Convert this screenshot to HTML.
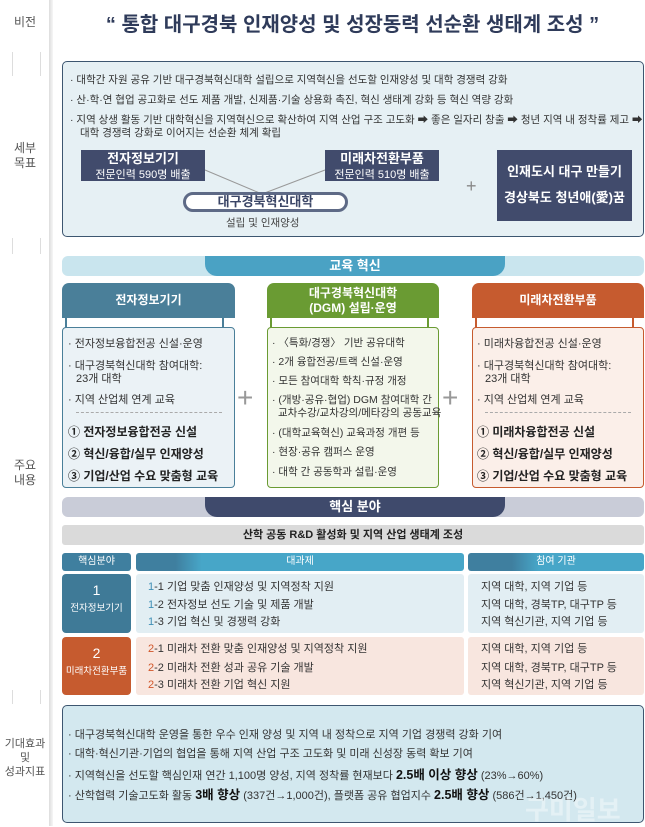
<!DOCTYPE html>
<html><head><meta charset="utf-8"><style>
*{margin:0;padding:0;box-sizing:border-box}
body{width:645px;height:826px;background:#fff;position:relative;overflow:hidden;font-family:"Liberation Sans","Noto Sans CJK KR",sans-serif;color:#333}
.a{position:absolute}
.lbl{position:absolute;left:0;width:50px;text-align:center;font-size:12px;color:#555;line-height:15px}
.t{position:absolute;font-size:10.5px;white-space:nowrap;color:#333}
.s{font-size:11px}
.hb{position:absolute;color:#fff;font-weight:bold;font-size:12px;text-align:center;border-radius:7px 7px 0 0}
.cb{position:absolute;border:1.5px solid;border-radius:4px}
.b{font-weight:bold;font-size:12px;color:#222}
.tk{position:absolute;width:1px;background:#ddd}
</style></head><body>
<div class="a" style="left:49px;top:0;width:4px;height:826px;background:linear-gradient(90deg,#ddd,#f6f6f6)"></div>
<div class="tk" style="left:12px;top:52px;height:24px"></div>
<div class="tk" style="left:40px;top:52px;height:24px"></div>
<div class="tk" style="left:12px;top:238px;height:16px"></div>
<div class="tk" style="left:40px;top:238px;height:16px"></div>
<div class="tk" style="left:12px;top:690px;height:14px"></div>
<div class="tk" style="left:40px;top:690px;height:14px"></div>
<div class="lbl" style="top:15px">비전</div>
<div class="lbl" style="top:141px">세부<br>목표</div>
<div class="lbl" style="top:458px">주요<br>내용</div>
<div class="lbl" style="top:737px;font-size:11px;line-height:14px">기대효과<br>및<br>성과지표</div>

<div class="a" style="left:62px;top:8px;width:581px;text-align:center;font-size:20px;font-weight:bold;color:#2f3b5a">“ 통합 대구경북 인재양성 및 성장동력 선순환 생태계 조성 ”</div>

<div class="a" style="left:62px;top:61px;width:582px;height:176px;background:#e6f0f4;border:1.5px solid #3d5670;border-radius:5px"></div>
<div class="t" style="left:70px;top:72px">· 대학간 자원 공유 기반 대구경북혁신대학 설립으로 지역혁신을 선도할 인재양성 및 대학 경쟁력 강화</div>
<div class="t" style="left:70px;top:92px">· 산·학·연 협업 공고화로 선도 제품 개발, 신제품·기술 상용화 촉진, 혁신 생태계 강화 등 혁신 역량 강화</div>
<div class="t" style="left:70px;top:112px">· 지역 상생 활동 기반 대학혁신을 지역혁신으로 확산하여 지역 산업 구조 고도화 ➡ 좋은 일자리 창출 ➡ 청년 지역 내 정착률 제고 ➡</div>
<div class="t" style="left:80px;top:125px">대학 경쟁력 강화로 이어지는 선순환 체계 확립</div>
<svg class="a" style="left:0;top:0" width="645" height="260"><line x1="205" y1="170" x2="262" y2="194" stroke="#999"/><line x1="325" y1="170" x2="262" y2="194" stroke="#999"/></svg>
<div class="a" style="left:81px;top:150px;width:124px;height:31px;background:#414b6c;color:#fff;text-align:center;font-size:13px;font-weight:bold;line-height:15px;padding-top:1px">전자정보기기<br><span style="font-size:11px;font-weight:normal">전문인력 590명 배출</span></div>
<div class="a" style="left:325px;top:150px;width:114px;height:31px;background:#414b6c;color:#fff;text-align:center;font-size:13px;font-weight:bold;line-height:15px;padding-top:1px">미래차전환부품<br><span style="font-size:11px;font-weight:normal">전문인력 510명 배출</span></div>
<div class="a" style="left:183px;top:192px;width:165px;height:20px;background:#fff;border:3px solid #5e6a86;border-radius:10px;text-align:center;font-size:13px;font-weight:bold;color:#3a4566;line-height:14px">대구경북혁신대학</div>
<div class="t" style="left:226px;top:215px;color:#444">설립 및 인재양성</div>
<div class="a" style="left:466px;top:176px;font-size:18px;color:#888">+</div>
<div class="a" style="left:497px;top:150px;width:135px;height:71px;background:#414b6c;color:#fff;text-align:center;font-size:13px;font-weight:bold;line-height:26px;padding-top:9px">인재도시 대구 만들기<br>경상북도 청년애(愛)꿈</div>

<div class="a" style="left:62px;top:256px;width:582px;height:20px;background:#c9e5ee;border-radius:6px"></div>
<div class="a" style="left:205px;top:256px;width:300px;height:20px;background:#4aa2c4;border-radius:0 0 12px 12px;color:#fff;text-align:center;font-size:13px;font-weight:bold;line-height:20px">교육 혁신</div>

<div class="hb" style="left:62px;top:283px;width:173px;height:35px;background:#4a7f99;line-height:35px">전자정보기기</div>
<div class="hb" style="left:267px;top:283px;width:172px;height:35px;background:#6a9b33;line-height:15px;padding-top:3px">대구경북혁신대학<br>(DGM) 설립·운영</div>
<div class="hb" style="left:472px;top:283px;width:172px;height:35px;background:#c65b2f;line-height:35px">미래차전환부품</div>
<div class="a" style="left:65px;top:318px;width:2px;height:10px;background:#4a7f99"></div><div class="a" style="left:222px;top:318px;width:2px;height:10px;background:#4a7f99"></div>
<div class="a" style="left:270px;top:318px;width:2px;height:10px;background:#6a9b33"></div><div class="a" style="left:427px;top:318px;width:2px;height:10px;background:#6a9b33"></div>
<div class="a" style="left:475px;top:318px;width:2px;height:10px;background:#c65b2f"></div><div class="a" style="left:632px;top:318px;width:2px;height:10px;background:#c65b2f"></div>

<div class="cb" style="left:62px;top:327px;width:173px;height:161px;background:#ebf2f6;border-color:#4a7f99"></div>
<div class="cb" style="left:267px;top:327px;width:172px;height:161px;background:#f3f7eb;border-color:#6a9b33"></div>
<div class="cb" style="left:472px;top:327px;width:172px;height:161px;background:#fbefe9;border-color:#c65b2f"></div>
<div class="a" style="left:237px;top:382px;font-size:28px;color:#999">+</div>
<div class="a" style="left:442px;top:382px;font-size:28px;color:#999">+</div>

<div class="t s" style="left:68px;top:335px">· 전자정보융합전공 신설·운영</div>
<div class="t s" style="left:68px;top:357px">· 대구경북혁신대학 참여대학:</div>
<div class="t s" style="left:76px;top:370px">23개 대학</div>
<div class="t s" style="left:68px;top:391px">· 지역 산업체 연계 교육</div>
<div class="a" style="left:76px;top:412px;width:146px;border-top:1px dashed #aaa"></div>
<div class="t b" style="left:68px;top:423px">① 전자정보융합전공 신설</div>
<div class="t b" style="left:68px;top:445px">② 혁신/융합/실무 인재양성</div>
<div class="t b" style="left:68px;top:467px">③ 기업/산업 수요 맞춤형 교육</div>

<div class="t" style="left:272px;top:335px">· 〈특화/경쟁〉 기반 공유대학</div>
<div class="t" style="left:272px;top:354px">· 2개 융합전공/트랙 신설·운영</div>
<div class="t" style="left:272px;top:373px">· 모든 참여대학 학칙·규정 개정</div>
<div class="t" style="left:272px;top:392px">· (개방·공유·협업) DGM 참여대학 간</div>
<div class="t" style="left:278px;top:405px">교차수강/교차강의/메타강의 공동교육</div>
<div class="t" style="left:272px;top:425px">· (대학교육혁신) 교육과정 개편 등</div>
<div class="t" style="left:272px;top:444px">· 현장·공유 캠퍼스 운영</div>
<div class="t" style="left:272px;top:464px">· 대학 간 공동학과 설립·운영</div>

<div class="t s" style="left:477px;top:335px">· 미래차융합전공 신설·운영</div>
<div class="t s" style="left:477px;top:357px">· 대구경북혁신대학 참여대학:</div>
<div class="t s" style="left:485px;top:370px">23개 대학</div>
<div class="t s" style="left:477px;top:391px">· 지역 산업체 연계 교육</div>
<div class="a" style="left:485px;top:412px;width:146px;border-top:1px dashed #aaa"></div>
<div class="t b" style="left:477px;top:423px">① 미래차융합전공 신설</div>
<div class="t b" style="left:477px;top:445px">② 혁신/융합/실무 인재양성</div>
<div class="t b" style="left:477px;top:467px">③ 기업/산업 수요 맞춤형 교육</div>

<div class="a" style="left:62px;top:497px;width:582px;height:20px;background:#c9ccd8;border-radius:6px"></div>
<div class="a" style="left:205px;top:497px;width:300px;height:20px;background:#3f4a6c;border-radius:0 0 12px 12px;color:#fff;text-align:center;font-size:13px;font-weight:bold;line-height:20px">핵심 분야</div>
<div class="a" style="left:62px;top:525px;width:582px;height:20px;background:#dadada;border-radius:3px;text-align:center;font-size:11px;font-weight:bold;line-height:20px;color:#222">산학 공동 R&amp;D 활성화 및 지역 산업 생태계 조성</div>

<div class="a" style="left:62px;top:553px;width:69px;height:18px;background:#3f7f9f;color:#fff;font-size:10px;text-align:center;line-height:18px;border-radius:3px">핵심분야</div>
<div class="a" style="left:136px;top:553px;width:328px;height:18px;background:linear-gradient(90deg,#3f7f9f 12%,#47a6c8 20%);color:#fff;font-size:10px;text-align:center;line-height:18px;border-radius:3px">대과제</div>
<div class="a" style="left:468px;top:553px;width:176px;height:18px;background:linear-gradient(90deg,#3f7f9f 25%,#47a6c8 40%);color:#fff;font-size:10px;text-align:center;line-height:18px;border-radius:3px">참여 기관</div>

<div class="a" style="left:62px;top:574px;width:69px;height:59px;background:#3f7a97;border-radius:4px;color:#fff;text-align:center;font-size:14px;line-height:16px;padding-top:8px">1<br><span style="font-size:9.5px">전자정보기기</span></div>
<div class="a" style="left:136px;top:574px;width:328px;height:59px;background:#e2eef3;border-radius:3px"></div>
<div class="a" style="left:468px;top:574px;width:176px;height:59px;background:#e2eef3;border-radius:3px"></div>
<div class="a" style="left:62px;top:637px;width:69px;height:58px;background:#c65b2f;border-radius:4px;color:#fff;text-align:center;font-size:14px;line-height:16px;padding-top:8px">2<br><span style="font-size:9.5px">미래차전환부품</span></div>
<div class="a" style="left:136px;top:637px;width:328px;height:58px;background:#f8e6df;border-radius:3px"></div>
<div class="a" style="left:468px;top:637px;width:176px;height:58px;background:#f8e6df;border-radius:3px"></div>

<div class="t s" style="left:148px;top:578px"><span style="color:#3f8fb5">1</span>-1 기업 맞춤 인재양성 및 지역정착 지원</div>
<div class="t s" style="left:148px;top:596px"><span style="color:#3f8fb5">1</span>-2 전자정보 선도 기술 및 제품 개발</div>
<div class="t s" style="left:148px;top:613px"><span style="color:#3f8fb5">1</span>-3 기업 혁신 및 경쟁력 강화</div>
<div class="t s" style="left:481px;top:578px">지역 대학, 지역 기업 등</div>
<div class="t s" style="left:481px;top:596px">지역 대학, 경북TP, 대구TP 등</div>
<div class="t s" style="left:481px;top:613px">지역 혁신기관, 지역 기업 등</div>
<div class="t s" style="left:148px;top:640px"><span style="color:#d0562a">2</span>-1 미래차 전환 맞춤 인재양성 및 지역정착 지원</div>
<div class="t s" style="left:148px;top:659px"><span style="color:#d0562a">2</span>-2 미래차 전환 성과 공유 기술 개발</div>
<div class="t s" style="left:148px;top:676px"><span style="color:#d0562a">2</span>-3 미래차 전환 기업 혁신 지원</div>
<div class="t s" style="left:481px;top:640px">지역 대학, 지역 기업 등</div>
<div class="t s" style="left:481px;top:659px">지역 대학, 경북TP, 대구TP 등</div>
<div class="t s" style="left:481px;top:676px">지역 혁신기관, 지역 기업 등</div>

<div class="a" style="left:62px;top:705px;width:582px;height:118px;background:#d3e8ef;border:1.5px solid #3d5670;border-radius:5px"></div>
<div class="t" style="left:68px;top:726px;font-size:11px">· 대구경북혁신대학 운영을 통한 우수 인재 양성 및 지역 내 정착으로 지역 기업 경쟁력 강화 기여</div>
<div class="t" style="left:68px;top:745px;font-size:11px">· 대학·혁신기관·기업의 협업을 통해 지역 산업 구조 고도화 및 미래 신성장 동력 확보 기여</div>
<div class="t" style="left:68px;top:764px;font-size:11px">· 지역혁신을 선도할 핵심인재 연간 1,100명 양성, 지역 정착률 현재보다 <b style="font-size:12.5px;color:#111">2.5배 이상 향상</b> (23%→60%)</div>
<div class="t" style="left:68px;top:784px;font-size:11px">· 산학협력 기술고도화 활동 <b style="font-size:12.5px;color:#111">3배 향상</b> (337건→1,000건), 플랫폼 공유 협업지수 <b style="font-size:12.5px;color:#111">2.5배 향상</b> (586건→1,450건)</div>
<div class="a" style="left:525px;top:790px;font-size:26px;color:rgba(255,255,255,0.4);font-weight:bold">구미일보</div>
</body></html>
